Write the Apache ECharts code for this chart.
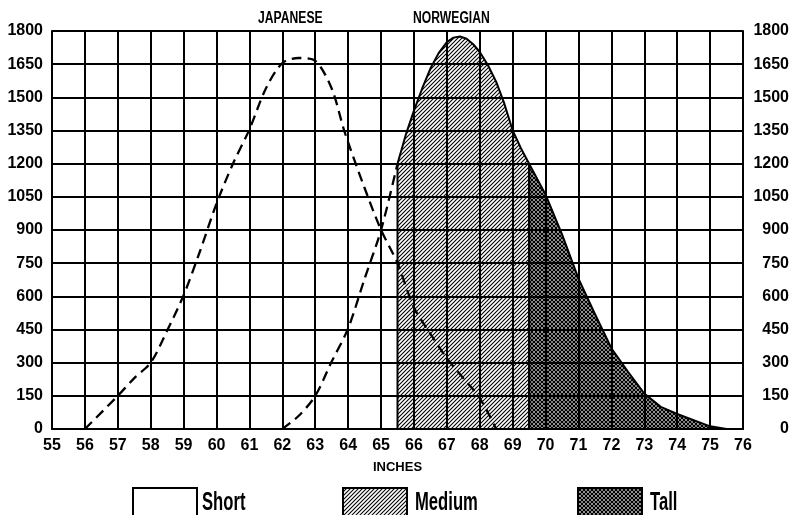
<!DOCTYPE html>
<html>
<head>
<meta charset="utf-8">
<script src="https://cdn.jsdelivr.net/npm/echarts@6/dist/echarts.min.js"></script>
<style>
  html, body { margin: 0; background: #fff; }
  #chart { width: 792px; height: 515px; }
</style>
</head>
<body>
<div id="chart"></div>
<script>
// Japanese height distribution (dashed)
const japX = [56, 57, 57.5, 58, 58.5, 59, 59.5, 60, 60.5, 61, 61.5, 62, 62.5, 63, 63.5, 63.9, 64.5, 65, 65.5, 66, 66.5, 67, 67.5, 68, 68.5]
const japY = [0, 150, 230, 300, 445, 605, 805, 1020, 1200, 1355, 1540, 1655, 1678, 1665, 1540, 1340, 1090, 900, 750, 550, 430, 320, 230, 140, 0]

// Norwegian, short part (dashed, unshaded)
const shortX = [62, 62.5, 63, 63.5, 64, 64.5, 65, 65.5]
const shortY = [0, 60, 150, 305, 455, 680, 900, 1200]

// Norwegian, medium part (hatched)
const medX = [65.5, 65.5, 65.75, 66, 66.25, 66.5, 66.75, 67, 67.2, 67.4, 67.6, 67.8, 68, 68.25, 68.5, 68.75, 69, 69.25, 69.5, 69.5]
const medY = [0, 1200, 1330, 1440, 1540, 1630, 1700, 1750, 1770, 1775, 1765, 1740, 1705, 1645, 1570, 1470, 1350, 1270, 1200, 0]

// Norwegian, tall part (cross hatched)
const tallX = [69.5, 69.5, 70, 70.5, 71, 71.5, 72, 72.5, 73, 73.5, 74, 74.5, 75, 75.5]
const tallY = [0, 1200, 1060, 880, 680, 520, 365, 260, 160, 100, 68, 40, 12, 0]

const yTicks = [0, 150, 300, 450, 600, 750, 900, 1050, 1200, 1350, 1500, 1650, 1800]
const titles = ['JAPANESE', 'NORWEGIAN']
const groups = ['Short', 'Medium', 'Tall']

const pairs = (xs, ys) => xs.map((x, i) => [x, ys[i]])

function hatch (size, cross) {
  const c = document.createElement('canvas')
  c.width = c.height = size
  const g = c.getContext('2d')
  g.strokeStyle = '#000'
  g.lineWidth = cross ? 1.3 : 1.1
  for (let k = -1; k <= 1; k++) {
    const sx = k * size
    g.beginPath()
    g.moveTo(sx - 1, size + 1)
    g.lineTo(sx + size + 1, -1)
    g.stroke()
    if (cross) {
      g.beginPath()
      g.moveTo(sx - 1, -1)
      g.lineTo(sx + size + 1, size + 1)
      g.stroke()
    }
  }
  return c
}

const medPattern = { image: hatch(4, false), repeat: 'repeat' }
const tallPattern = { image: hatch(4, true), repeat: 'repeat' }

const sans = "'Liberation Sans', Arial, sans-serif"
const axisFont = { fontFamily: sans, fontWeight: 'bold', fontSize: 16, color: '#000' }
const black = { color: '#000', width: 2 }

// hand drawn legend: box + condensed label
function legendItem (x, textX, name, fill) {
  return [
    { type: 'rect', x: x, y: 488, shape: { width: 64, height: 34 }, style: { fill: fill, stroke: '#000', lineWidth: 2 } },
    { type: 'text', x: textX, y: 503, scaleX: 0.64, style: { text: name, font: 'bold 26px ' + sans, fill: '#000', align: 'left', verticalAlign: 'middle' } }
  ]
}

function title (x, text) {
  return { type: 'text', x: x, y: 18.5, scaleX: 0.76, style: { text: text, font: 'bold 16px ' + sans, fill: '#000', align: 'left', verticalAlign: 'middle' } }
}

const chart = echarts.init(document.getElementById('chart'))
chart.setOption({
  animation: false,
  backgroundColor: '#fff',
  grid: { left: 52, right: 49, top: 31, bottom: 86 },
  graphic: [title(258, titles[0]), title(413, titles[1])].concat(
    legendItem(133, 202, groups[0], '#fff'),
    legendItem(343, 415, groups[1], medPattern),
    legendItem(578, 650, groups[2], tallPattern)
  ),
  xAxis: {
    type: 'value',
    min: 55,
    max: 76,
    interval: 1,
    name: 'INCHES',
    nameLocation: 'middle',
    nameGap: 32,
    nameTextStyle: { fontFamily: sans, fontWeight: 'bold', fontSize: 13, color: '#000' },
    axisLine: { lineStyle: black },
    axisTick: { show: false },
    axisLabel: Object.assign({ margin: 9 }, axisFont),
    splitLine: { show: true, lineStyle: black }
  },
  yAxis: [
    {
      type: 'value',
      min: yTicks[0],
      max: yTicks[yTicks.length - 1],
      interval: 150,
      axisLine: { show: true, lineStyle: black },
      axisTick: { show: false },
      axisLabel: Object.assign({ margin: 9, formatter: v => String(v) }, axisFont),
      splitLine: { show: true, lineStyle: black }
    },
    {
      type: 'value',
      position: 'right',
      min: yTicks[0],
      max: yTicks[yTicks.length - 1],
      interval: 150,
      axisLine: { show: true, lineStyle: black },
      axisTick: { show: false },
      axisLabel: Object.assign({ margin: 46, align: 'right', formatter: v => String(v) }, axisFont),
      splitLine: { show: false }
    }
  ],
  series: [
    {
      name: groups[1],
      type: 'line',
      symbol: 'none',
      data: pairs(medX, medY),
      lineStyle: { color: '#000', width: 2 },
      itemStyle: { color: '#000' },
      areaStyle: { color: medPattern, opacity: 1 }
    },
    {
      name: groups[2],
      type: 'line',
      symbol: 'none',
      data: pairs(tallX, tallY),
      lineStyle: { color: '#000', width: 2 },
      itemStyle: { color: '#000' },
      areaStyle: { color: tallPattern, opacity: 1 }
    },
    {
      name: groups[0],
      type: 'line',
      symbol: 'none',
      smooth: 0.3,
      data: pairs(shortX, shortY),
      lineStyle: { color: '#000', width: 2.3, type: [10, 6] },
      itemStyle: { color: '#000' }
    },
    {
      name: 'Japanese',
      type: 'line',
      symbol: 'none',
      smooth: 0.3,
      data: pairs(japX, japY),
      lineStyle: { color: '#000', width: 2.3, type: [10, 6] },
      itemStyle: { color: '#000' }
    }
  ]
})
</script>
</body>
</html>
